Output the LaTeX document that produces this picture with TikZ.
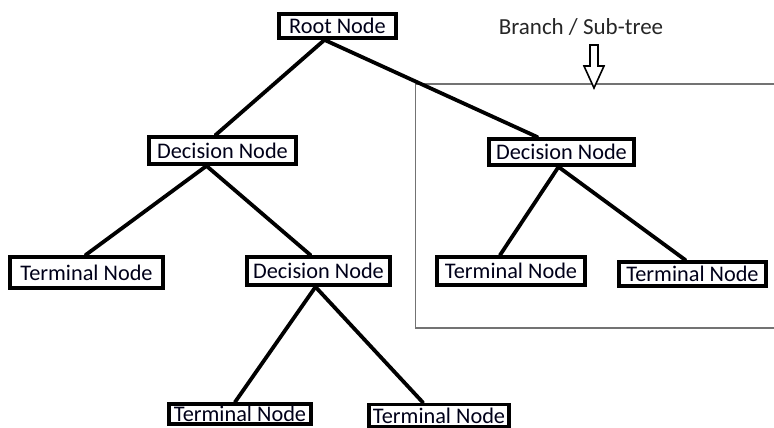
\documentclass[tikz,border=0pt]{standalone}
\usepackage{fontspec}
\setmainfont{Carlito}
\usetikzlibrary{calc}
\tikzset{
  treebox/.style={draw=black, line width=3.8pt, fill=white, inner sep=0pt, text=black!90!blue,
    font=\fontsize{22.3}{24}\selectfont},
  edge/.style={line width=3.8pt, line cap=round},
  frame/.style={draw=black!55, line width=1.2pt},
}
\begin{document}
\begin{tikzpicture}[x=1pt,y=1pt]
\useasboundingbox (0,0) rectangle (774,-428);
% sub-tree frame
\draw[frame] (774,-84) -- (415.5,-84) -- (415.5,-328) -- (774,-328);
% label and hollow arrow
\node[font=\fontsize{23}{25}\selectfont, text=black!85, inner sep=0pt] (lbl) at (581,-27) {Branch / Sub-tree};
\coordinate (tip) at (594,-88);
\draw[line width=1.6pt, fill=white] ($(tip)+(-4,43)$) -- ($(tip)+(4,43)$) -- ($(tip)+(4,22)$) -- ($(tip)+(10,22)$) -- (tip) -- ($(tip)+(-10,22)$) -- ($(tip)+(-4,22)$) -- cycle;
% nodes
\node[treebox, minimum width=117, minimum height=24] (root) at (337.5,-26) {Root Node};
\node[treebox, minimum width=147, minimum height=27] (decL) at (222.5,-150.5) {Decision Node};
\node[treebox, minimum width=145, minimum height=26] (decR) at (561.5,-152) {Decision Node};
\node[treebox, minimum width=153, minimum height=31] (termFL) at (86.5,-272.5) {Terminal Node};
\node[treebox, minimum width=143, minimum height=28] (decM) at (318.5,-271) {Decision Node};
\node[treebox, minimum width=148, minimum height=28] (termR1) at (511,-271) {Terminal Node};
\node[treebox, minimum width=147, minimum height=24] (termR2) at (692.5,-274) {Terminal Node};
\node[treebox, minimum width=142, minimum height=20] (termB1) at (240,-414) {Terminal Node};
\node[treebox, minimum width=140, minimum height=22] (termB2) at (439,-415.5) {Terminal Node};
% connectors
\draw[edge] ([xshift=-13pt]root.south) -- ([xshift=-7pt]decL.north);
\draw[edge] ([xshift=-13pt]root.south) -- ([xshift=-24pt]decR.north);
\draw[edge] ([xshift=-16pt]decL.south) -- ([xshift=-1pt]termFL.north);
\draw[edge] ([xshift=-16pt]decL.south) -- ([xshift=-8pt]decM.north);
\draw[edge] ([xshift=-3pt]decR.south) -- ([xshift=-11pt]termR1.north);
\draw[edge] ([xshift=-3pt]decR.south) -- ([xshift=-7pt]termR2.north);
\draw[edge] ([xshift=-3pt]decM.south) -- ([xshift=-5pt]termB1.north);
\draw[edge] ([xshift=-3pt]decM.south) -- ([xshift=-16pt]termB2.north);
\end{tikzpicture}
\end{document}
